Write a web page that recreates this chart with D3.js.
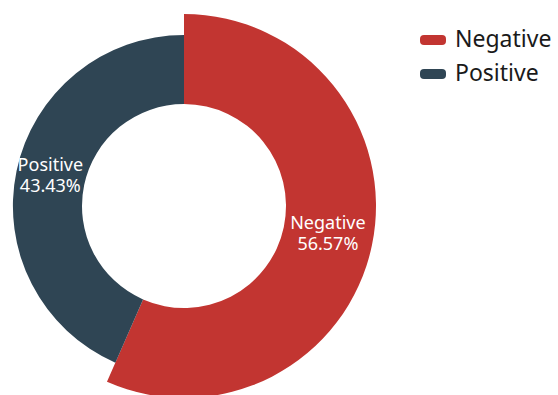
<!DOCTYPE html>
<html>
<head>
<meta charset="utf-8">
<script src="https://cdn.jsdelivr.net/npm/d3@7"></script>
<style>
  body { margin: 0; background: #fff; }
  svg { display: block; font-family: "Noto Sans", sans-serif; }
</style>
</head>
<body>
<div id="chart"></div>
<script>
const categories = ["Negative", "Positive"];
const values = [56.57, 43.43];
const colors = ["#c23531", "#2f4554"];

const width = 558;
const height = 395;
const center = { X: 184, Y: 206 };
const innerR = 102;
const maxR = 192;

const svg = d3.select("#chart").append("svg")
  .attr("width", width)
  .attr("height", height);

const g = svg.append("g")
  .attr("transform", `translate(${center.X}, ${center.Y})`);

const data = categories.map((c, i) => ({ name: c, value: values[i], color: colors[i] }));

// rose type: outer radius grows with value
const rScale = d3.scaleLinear()
  .domain([0, d3.max(values)])
  .range([innerR, maxR]);

const pie = d3.pie()
  .sort(null)
  .value(d => d.value);

const arcs = pie(data);

const arc = d3.arc()
  .innerRadius(innerR)
  .outerRadius(d => rScale(d.data.value));

g.selectAll("path.slice")
  .data(arcs)
  .enter().append("path")
  .attr("class", "slice")
  .attr("fill", d => d.data.color)
  .attr("d", arc);

// labels inside the slices
const labels = g.selectAll("text.label")
  .data(arcs)
  .enter().append("text")
  .attr("class", "label")
  .attr("text-anchor", "middle")
  .attr("fill", "#fff")
  .attr("font-size", "18px")
  .attr("transform", d => {
    const c = arc.centroid(d);
    return `translate(${c[0]}, ${c[1]})`;
  });

labels.append("tspan")
  .attr("x", 0)
  .attr("y", -7.5)
  .text(d => d.data.name);

labels.append("tspan")
  .attr("x", 0)
  .attr("y", 13.5)
  .text(d => d.data.value.toFixed(2) + "%");

// legend
const legend = svg.append("g")
  .attr("transform", "translate(420, 0)");

const rows = legend.selectAll("g")
  .data(data)
  .enter().append("g")
  .attr("transform", (d, i) => `translate(0, ${40 + i * 34})`);

rows.append("rect")
  .attr("x", 0)
  .attr("y", -5)
  .attr("width", 26)
  .attr("height", 10)
  .attr("rx", 4)
  .attr("fill", d => d.color);

rows.append("text")
  .attr("x", 35)
  .attr("y", 7)
  .attr("font-size", "23px")
  .attr("fill", "#1a1a1a")
  .text(d => d.name);
</script>
</body>
</html>
